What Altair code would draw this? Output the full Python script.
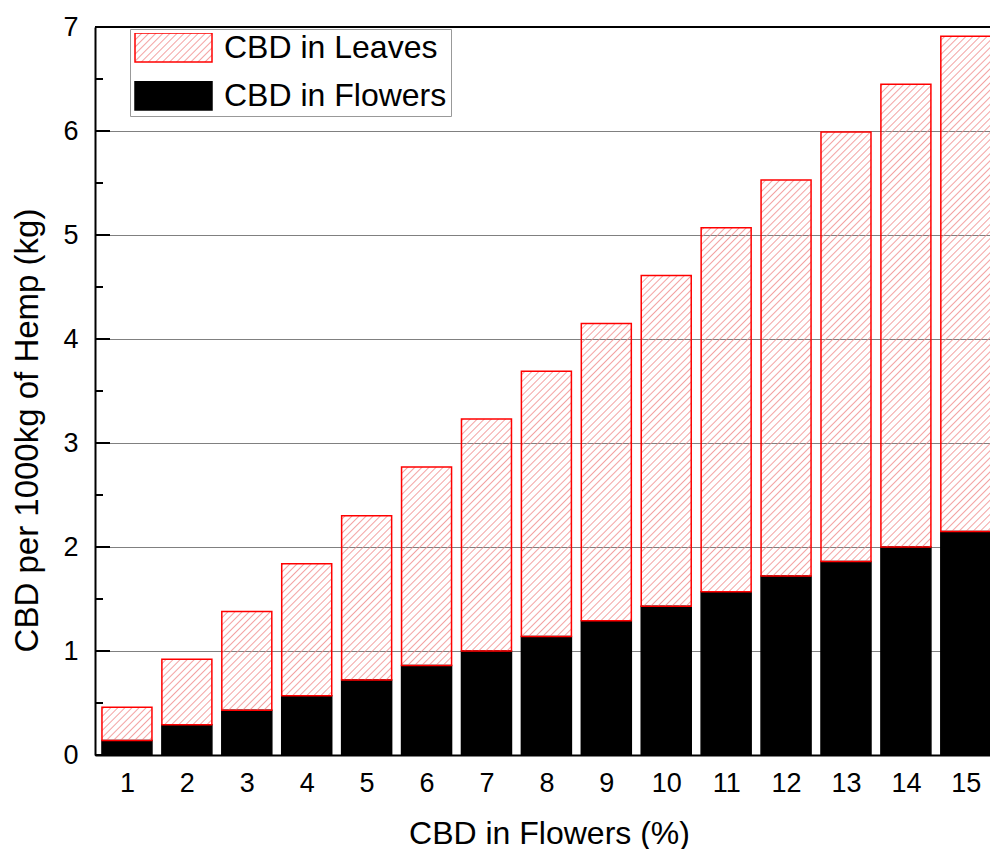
import re
import altair as alt
import pandas as pd

# ---- data ----
cbd_pct = list(range(1, 16))
total_cbd = [0.46, 0.92, 1.38, 1.84, 2.30, 2.77, 3.23, 3.69, 4.15, 4.61, 5.07, 5.53, 5.99, 6.45, 6.91]
flowers_cbd = [0.14, 0.29, 0.43, 0.57, 0.72, 0.86, 1.00, 1.14, 1.29, 1.43, 1.57, 1.72, 1.86, 2.00, 2.15]
series_names = ["CBD in Leaves", "CBD in Flowers"]
y_major = [0, 1, 2, 3, 4, 5, 6, 7]
y_minor = [0.5, 1.5, 2.5, 3.5, 4.5, 5.5, 6.5]
x_domain = [0.55, 15.32]   # visible x range (the right end of the plot is cropped)

rows = []
for k, f in zip(cbd_pct, flowers_cbd):
    rows.append({"x": k, "series": "CBD in Flowers", "y0": 0.0, "y1": f})
for k, f, t in zip(cbd_pct, flowers_cbd, total_cbd):
    rows.append({"x": k, "series": "CBD in Leaves", "y0": f, "y1": t})
df = pd.DataFrame(rows)

W, H = 895, 728
FONT = "Liberation Sans"

xscale = alt.Scale(domain=x_domain, nice=False, zero=False)
yscale = alt.Scale(domain=[0, 7], nice=False)

legend_kw = dict(title=None, orient="none", legendX=35, legendY=2,
                 symbolType="M-1,-0.377H1V0.377H-1Z", symbolSize=5929,
                 clipHeight=29, labelFontSize=32, labelFont=FONT,
                 labelColor="black", labelOffset=11, rowPadding=15,
                 padding=4, strokeColor="#999999", fillColor="white",
                 symbolStrokeWidth=1.5, labelLimit=500)

bars = alt.Chart(df).mark_bar(strokeWidth=1.5, width=50, clip=True).encode(
    x=alt.X("x:Q", scale=xscale,
            axis=alt.Axis(title="CBD in Flowers (%)", values=cbd_pct, format="d",
                          labelAngle=0, ticks=False,
                          domainColor="black", domainWidth=2, labelFontSize=27,
                          labelColor="black", labelPadding=15, titleFontSize=32,
                          titleFontWeight="normal", titleColor="black",
                          titleBaseline="alphabetic", titleY=88, titleX=454, grid=False)),
    y=alt.Y("y1:Q", scale=yscale,
            axis=alt.Axis(title="CBD per 1000kg of Hemp (kg)", values=y_major, ticks=False,
                          format="d",
                          grid=True, gridColor="#808080", gridWidth=1,
                          domainColor="black", domainWidth=2, labelFontSize=27,
                          labelColor="black", labelPadding=17, titleFontSize=33,
                          titleFontWeight="normal", titleColor="black",
                          titleBaseline="alphabetic", titleX=-58, titleY=403)),
    y2="y0:Q",
    fill=alt.Fill("series:N", scale=alt.Scale(domain=series_names, range=["url(#hatch)", "black"]),
                  legend=alt.Legend(**legend_kw)),
    stroke=alt.Stroke("series:N", scale=alt.Scale(domain=series_names, range=["red", "black"]),
                      legend=alt.Legend(**legend_kw)),
)

major_df = pd.DataFrame({"v": y_major})
minor_df = pd.DataFrame({"v": y_minor})

major_ticks = alt.Chart(major_df).mark_rule(color="black", strokeWidth=2).encode(
    y=alt.Y("v:Q", scale=yscale), x=alt.value(0), x2=alt.value(15))
minor_ticks = alt.Chart(minor_df).mark_rule(color="black", strokeWidth=2).encode(
    y=alt.Y("v:Q", scale=yscale), x=alt.value(0), x2=alt.value(8))
top_line = alt.Chart(major_df).mark_rule(color="black", strokeWidth=2).encode(
    y=alt.value(0), x=alt.value(0), x2=alt.value(W))

chart = alt.layer(bars, major_ticks, minor_ticks, top_line).properties(
    width=W, height=H,
    autosize=alt.AutoSizeParams(type="none"),
    padding={"left": 95, "top": 19, "right": 0, "bottom": 94},
).configure(font=FONT).configure_view(strokeWidth=0)

chart.save("out.html", embed_options={"renderer": "svg", "actions": False})

# add the hatch pattern definition used as the leaves fill
defs = ('<svg width="0" height="0" style="position:absolute">'
        '<defs><pattern id="hatch" patternUnits="userSpaceOnUse" width="5" height="5" '
        'patternTransform="rotate(45)">'
        '<line x1="2.5" y1="-1" x2="2.5" y2="6" stroke="#f08c8c" stroke-width="0.8"/>'
        '</pattern></defs></svg>')
style = '<style>body{margin:8px 0 0 0;}</style>'
with open("out.html", encoding="utf-8") as fh:
    html = fh.read()
if "<body>" in html:
    html = html.replace("<body>", "<body>" + defs, 1)
else:
    html = re.sub(r"(<body[^>]*>)", r"\1" + defs, html, count=1)
html = html.replace("</head>", style + "</head>", 1)
with open("out.html", "w", encoding="utf-8") as fh:
    fh.write(html)
